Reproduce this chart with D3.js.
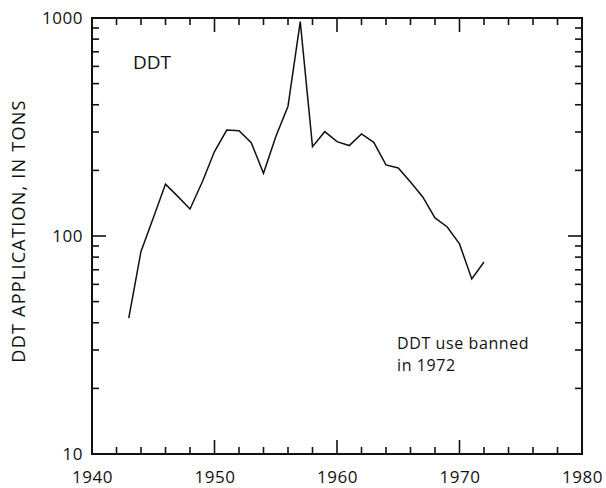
<!DOCTYPE html>
<html>
<head>
<meta charset="utf-8">
<script src="https://cdn.jsdelivr.net/npm/d3@7"></script>
<style>
  body { margin: 0; background: #fff; }
  text { font-family: "Open Sans", sans-serif; fill: #111; }
</style>
</head>
<body>
<div id="chart"></div>
<script>

// DDT application by year (tons)
var years = [1943, 1944, 1945, 1946, 1947, 1948, 1949, 1950, 1951, 1952, 1953, 1954, 1955, 1956, 1957,
             1958, 1959, 1960, 1961, 1962, 1963, 1964, 1965, 1966, 1967, 1968, 1969, 1970, 1971, 1972];
var tons  = [42, 85, 121, 173, 152, 133, 177, 244, 306, 304, 268, 194, 285, 394, 962,
             257, 301, 271, 260, 294, 269, 212, 205, 177, 151, 121, 110, 92, 63.5, 76];

var xTicks = [1940, 1950, 1960, 1970, 1980];
var yTicks = [10, 100, 1000];

var margin = {top: 18, right: 24, bottom: 34, left: 92}
var width = 606 - margin.left - margin.right;
var height = 488 - margin.top - margin.bottom;

var svg = d3.select("#chart")
      .append("svg")
      .attr("width", 606)
      .attr("height", 488)

var g = svg.append("g")
      .attr("transform", "translate(" + margin.left + "," + margin.top + ")")

var x = d3.scaleLinear()
      .domain([1940, 1980])
      .range([0, width])

var y = d3.scaleLog()
      .domain([10, 1000])
      .range([height, 0])

// minor ticks: every 2 years, 2..9 per decade
var xMinor = d3.range(1942, 1980, 2).filter(function(d){ return d % 10 != 0; });
var yMinor = [];
[10, 100].forEach(function(b){
  for (var k = 2; k <= 9; k++) yMinor.push(b * k);
});

var major = 14, minor = 7;

// tick labels from the axes, no domain
g.append("g")
    .attr("transform", "translate(0," + height + ")")
    .call(d3.axisBottom(x).tickValues(xTicks).tickSize(0).tickPadding(17).tickFormat(d3.format("d")))
    .call(function(s){
      s.select(".domain").remove();
      s.selectAll("text").attr("font-size", 17).attr("letter-spacing", 0.5).attr("font-family", "Open Sans");
    })

g.append("g")
    .call(d3.axisLeft(y).tickValues(yTicks).tickSize(0).tickPadding(9).tickFormat(d3.format("d")))
    .call(function(s){
      s.select(".domain").remove();
      s.selectAll("text").attr("font-size", 17).attr("letter-spacing", 0.5).attr("font-family", "Open Sans");
    })

// tick marks on all four sides, pointing in
var tickG = g.append("g").attr("stroke", "#111").attr("stroke-width", 1.6)

function xTickMarks(vals, len) {
  tickG.selectAll(null).data(vals).enter().append("line")
      .attr("x1", function(d){ return x(d); }).attr("x2", function(d){ return x(d); })
      .attr("y1", height).attr("y2", height - len)
  tickG.selectAll(null).data(vals).enter().append("line")
      .attr("x1", function(d){ return x(d); }).attr("x2", function(d){ return x(d); })
      .attr("y1", 0).attr("y2", len)
}
function yTickMarks(vals, len) {
  tickG.selectAll(null).data(vals).enter().append("line")
      .attr("y1", function(d){ return y(d); }).attr("y2", function(d){ return y(d); })
      .attr("x1", 0).attr("x2", len)
  tickG.selectAll(null).data(vals).enter().append("line")
      .attr("y1", function(d){ return y(d); }).attr("y2", function(d){ return y(d); })
      .attr("x1", width).attr("x2", width - len)
}
xTickMarks(xTicks, major);
xTickMarks(xMinor, minor);
yTickMarks(yTicks, major);
yTickMarks(yMinor, minor);

// frame
g.append("rect")
    .attr("width", width)
    .attr("height", height)
    .attr("fill", "none")
    .attr("stroke", "#111")
    .attr("stroke-width", 2)

var data = years.map(function(d, i){ return [d, tons[i]]; });

var line = d3.line()
    .x(function(d){ return x(d[0]); })
    .y(function(d){ return y(d[1]); })

g.append("path")
    .datum(data)
    .attr("fill", "none")
    .attr("stroke", "#111")
    .attr("stroke-width", 1.5)
    .attr("d", line)

// annotations
g.append("text")
    .attr("x", 133 - margin.left)
    .attr("y", 69 - margin.top)
    .attr("font-size", 19)
    .text("DDT")

g.append("text")
    .attr("x", 397 - margin.left)
    .attr("y", 349 - margin.top)
    .attr("font-size", 16)
    .attr("letter-spacing", 0.6)
    .text("DDT use banned")
g.append("text")
    .attr("x", 397 - margin.left)
    .attr("y", 371 - margin.top)
    .attr("font-size", 16)
    .attr("letter-spacing", 0.6)
    .text("in 1972")

// y label
svg.append("text")
    .attr("transform", "translate(25,231) rotate(-90)")
    .attr("text-anchor", "middle")
    .attr("font-size", 18)
    .attr("letter-spacing", 1.25)
    .text("DDT APPLICATION, IN TONS")

</script>
</body>
</html>
